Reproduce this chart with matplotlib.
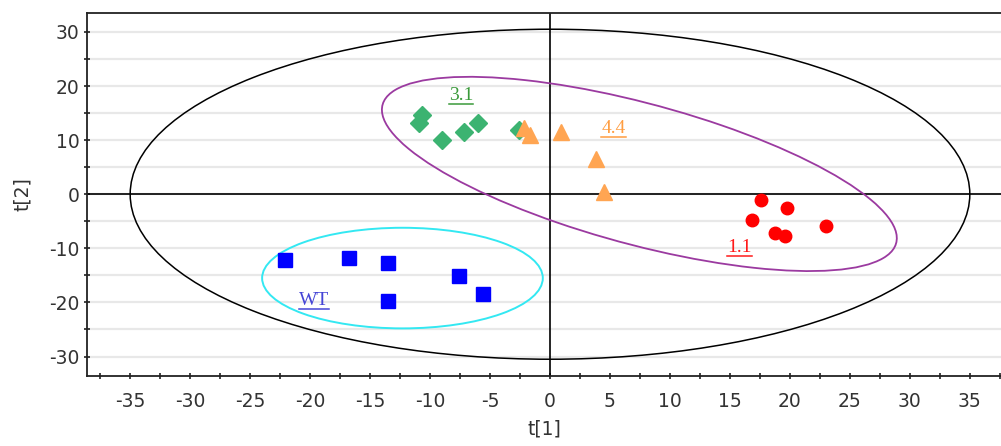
import matplotlib
matplotlib.use('Agg')
import matplotlib.pyplot as plt
from matplotlib.patches import Ellipse
from matplotlib.lines import Line2D
from matplotlib.ticker import MultipleLocator

plt.rcParams['font.family'] = ['DejaVu Sans']
plt.rcParams['axes.unicode_minus'] = False

# score values t[1], t[2] per group
wt_t1 = [-22.1, -16.75, -13.5, -7.6, -5.6, -13.5]
wt_t2 = [-12.2, -11.8, -12.7, -15.1, -18.4, -19.8]

g31_t1 = [-10.7, -10.9, -9.0, -7.2, -6.0, -2.6]
g31_t2 = [14.6, 13.2, 10.1, 11.5, 13.2, 11.9]

g44_t1 = [-2.2, -1.7, 0.9, 3.8, 4.5]
g44_t2 = [12.3, 10.9, 11.5, 6.6, 0.4]

g11_t1 = [17.6, 19.8, 16.8, 18.8, 19.6, 23.0]
g11_t2 = [-1.1, -2.6, -4.8, -7.1, -7.7, -5.9]

# label positions
label_names = ['WT', '3.1', '4.4', '1.1']
label_x = [-19.7, -7.4, 5.3, 15.8]
label_y = [-19.7, 18.2, 12.1, -9.9]

fig = plt.figure(figsize=(10.01, 4.46), dpi=100)
ax = fig.add_axes([87/1001, 1 - 376/446, 914/1001, 363/446])

# ellipses
ax.add_patch(Ellipse((0, 0), 70, 61, fill=False, color='black', lw=1.1, zorder=3))
ax.add_patch(Ellipse((-12.3, -15.5), 23.4, 18.6, fill=False, color='#33e8f2', lw=1.4, zorder=3))
ax.add_patch(Ellipse((7.45, 3.75), 51.2, 22.6, angle=-37.4, fill=False, color='#9b3aa0', lw=1.3, zorder=3))

ax.axhline(0, color='black', lw=1.2, zorder=2)
ax.axvline(0, color='black', lw=1.2, zorder=2)

ax.plot(wt_t1, wt_t2, 's', color='#0000ff', ms=10, zorder=4)
ax.plot(g31_t1, g31_t2, 'D', color='#3cb371', ms=9.5, zorder=4)
ax.plot(g44_t1, g44_t2, '^', color='#ffa552', ms=12, zorder=5)
ax.plot(g11_t1, g11_t2, 'o', color='#ff0000', ms=9, zorder=4)

label_colors = ['#4545d6', '#3a9a3a', '#ff9d40', '#ff1a1a']
texts = []
for name, lx, ly, c in zip(label_names, label_x, label_y, label_colors):
    t = ax.text(lx, ly, name, color=c, fontsize=14, family='Liberation Serif',
                ha='center', va='center', zorder=6)
    texts.append(t)

ax.set_xlim(-38.6, 37.6)
ax.set_ylim(-33.6, 33.5)

ax.xaxis.set_major_locator(MultipleLocator(5))
ax.xaxis.set_minor_locator(MultipleLocator(2.5))
ax.yaxis.set_major_locator(MultipleLocator(10))
ax.yaxis.set_minor_locator(MultipleLocator(5))

ax.grid(True, axis='y', which='both', color='#e8e8e8', lw=1.6, zorder=0)
ax.set_axisbelow(True)

ax.tick_params(which='both', direction='inout', length=5, width=1.2, colors='#222222',
               labelsize=13.5, labelcolor='#333333')
ax.tick_params(axis='x', pad=9)
ax.tick_params(axis='y', pad=3)

for side in ['left', 'bottom', 'top']:
    ax.spines[side].set_linewidth(1.3)
    ax.spines[side].set_color('#222222')
ax.spines['right'].set_visible(False)

ax.set_xlabel('t[1]', fontsize=13.5, color='#333333', labelpad=6)
ax.set_ylabel('t[2]', fontsize=13.5, color='#333333', labelpad=12)

# underline the group labels
fig.canvas.draw()
r = fig.canvas.get_renderer()
for t in texts:
    bb = t.get_window_extent(r)
    fig.add_artist(Line2D([bb.x0, bb.x1], [bb.y0, bb.y0], transform=None,
                          color=t.get_color(), lw=1.1))

plt.savefig('out.png', dpi=100)
